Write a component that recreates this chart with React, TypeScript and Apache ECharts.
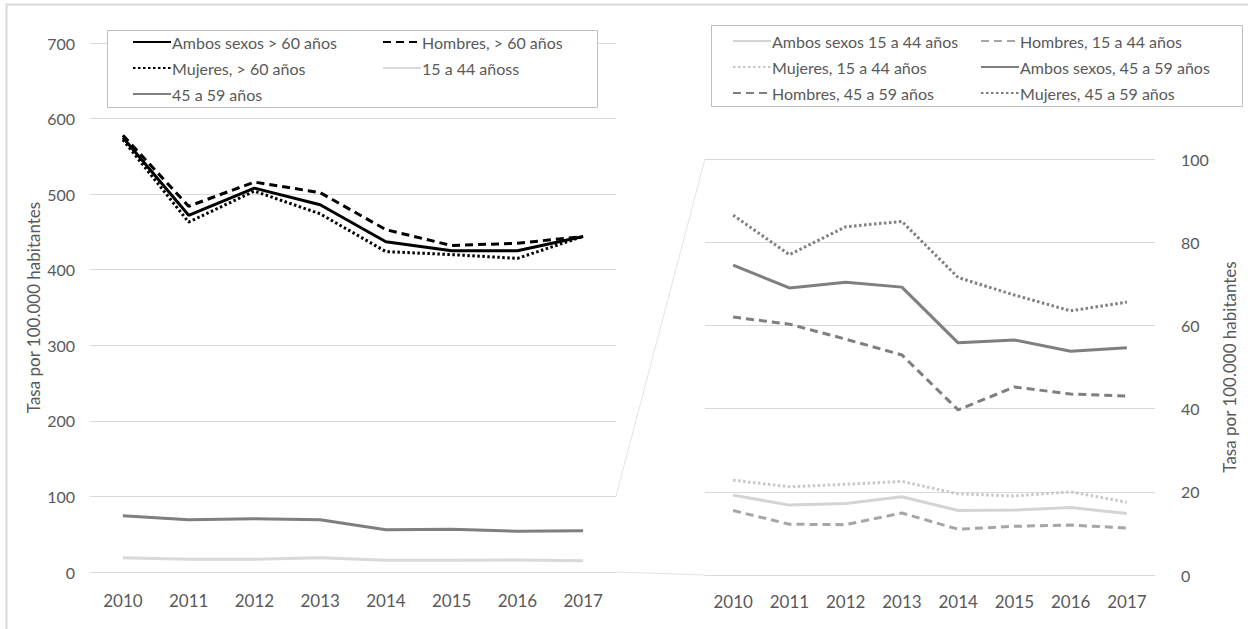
import React, { useEffect, useRef } from "react";
import * as echarts from "echarts";

const years = ["2010", "2011", "2012", "2013", "2014", "2015", "2016", "2017"];

// Left chart (all ages)
const ambos60 = [575, 472, 508, 486, 437, 425, 425, 444];
const hombres60 = [578, 484, 516, 502, 453, 432, 435, 444];
const mujeres60 = [572, 463, 504, 474, 424, 420, 415, 444];
const g15a44 = [19, 17, 17, 19, 15.5, 15.5, 16, 14.8];
const g45a59 = [74.5, 69, 70.4, 69.2, 55.8, 56.5, 53.8, 54.6];

// Right chart (zoom 0-100)
const ambos15 = [19.2, 16.8, 17.2, 18.8, 15.5, 15.6, 16.2, 14.8];
const hombres15 = [15.5, 12.2, 12.1, 14.9, 11.0, 11.7, 12.0, 11.3];
const mujeres15 = [22.8, 21.2, 21.8, 22.5, 19.5, 19.0, 20.0, 17.5];
const ambos45 = [74.5, 69.0, 70.4, 69.2, 55.8, 56.5, 53.8, 54.6];
const hombres45 = [62.0, 60.3, 56.7, 52.9, 39.7, 45.2, 43.5, 43.0];
const mujeres45 = [86.5, 77.0, 83.7, 85.0, 71.5, 67.3, 63.5, 65.6];

const leftTicks = { min: 0, max: 700, interval: 100 };
const rightTicks = { min: 0, max: 100, interval: 20 };
const axisName = "Tasa por 100.000 habitantes";

const FONT = "Lato, 'Open Sans', sans-serif";
const TXT = "#595959";
const GRID = "#d9d9d9";

export default function App() {
  const ref = useRef<HTMLDivElement>(null);
  useEffect(() => {
    if (!ref.current) return;
    const chart = echarts.init(ref.current, null, { renderer: "svg" });
    const dash = [8, 5];
    const dot = [2.5, 2.5];
    const line = (
      name: string,
      data: number[],
      color: string,
      type: any,
      idx: number,
      width = 3
    ) => ({
      name,
      type: "line",
      xAxisIndex: idx,
      yAxisIndex: idx,
      data,
      symbol: "none",
      lineStyle: { color, width, type },
      itemStyle: { color },
      z: 2,
    });
    const legendBase = {
      orient: "vertical",
      selectedMode: false,
      itemWidth: 38,
      itemHeight: 14,
      itemGap: 8,
      itemStyle: { opacity: 0 },
      textStyle: { color: TXT, fontFamily: FONT, fontSize: 16, lineHeight: 18, padding: [0, 0, 0, -4] },
      z: 10,
    };
    const catAxis = (gridIndex: number, margin: number) => ({
      type: "category",
      gridIndex,
      data: years,
      boundaryGap: true,
      axisLine: { show: true, lineStyle: { color: GRID, width: 1 } },
      axisTick: { show: false },
      axisLabel: { color: TXT, fontFamily: FONT, fontSize: 17, margin },
    });
    const nameStyle = { color: TXT, fontFamily: FONT, fontSize: 17 };
    chart.setOption({
      animation: false,
      backgroundColor: "#ffffff",
      textStyle: { fontFamily: FONT },
      grid: [
        { left: 90, top: 43, width: 526, height: 529 },
        { left: 705, top: 159, width: 450, height: 416 },
      ],
      xAxis: [catAxis(0, 20), catAxis(1, 18)],
      yAxis: [
        {
          type: "value",
          gridIndex: 0,
          ...leftTicks,
          name: axisName,
          nameLocation: "middle",
          nameGap: 48,
          nameRotate: 90,
          nameTextStyle: nameStyle,
          axisLine: { show: false },
          axisTick: { show: false },
          axisLabel: { color: TXT, fontFamily: FONT, fontSize: 16, margin: 15 },
          splitLine: { lineStyle: { color: GRID, width: 1 } },
        },
        {
          type: "value",
          gridIndex: 1,
          position: "right",
          ...rightTicks,
          name: axisName,
          nameLocation: "middle",
          nameGap: 66,
          nameRotate: 90,
          nameTextStyle: nameStyle,
          axisLine: { show: false },
          axisTick: { show: false },
          axisLabel: { color: TXT, fontFamily: FONT, fontSize: 16, margin: 26 },
          splitLine: { lineStyle: { color: GRID, width: 1 } },
        },
      ],
      legend: [
        { ...legendBase, left: 127, top: 28, data: ["Ambos sexos > 60 años", "Mujeres, > 60 años", "45 a 59 años"] },
        { ...legendBase, left: 377, top: 28, data: ["Hombres, > 60 años", "15 a 44 añoss"] },
        { ...legendBase, left: 727, top: 27, data: ["Ambos sexos 15 a 44 años", "Mujeres, 15 a 44 años", "Hombres, 45 a 59 años"] },
        { ...legendBase, left: 975, top: 27, data: ["Hombres, 15 a 44 años", "Ambos sexos, 45 a 59 años", "Mujeres, 45 a 59 años"] },
      ],
      series: [
        line("15 a 44 añoss", g15a44, "#d9d9d9", "solid", 0),
        line("45 a 59 años", g45a59, "#7f7f7f", "solid", 0),
        line("Mujeres, > 60 años", mujeres60, "#000000", dot, 0),
        line("Hombres, > 60 años", hombres60, "#000000", dash, 0),
        line("Ambos sexos > 60 años", ambos60, "#000000", "solid", 0),
        line("Ambos sexos 15 a 44 años", ambos15, "#d4d4d4", "solid", 1),
        line("Hombres, 15 a 44 años", hombres15, "#a6a6a6", dash, 1),
        line("Mujeres, 15 a 44 años", mujeres15, "#c8c8c8", dot, 1),
        line("Ambos sexos, 45 a 59 años", ambos45, "#7f7f7f", "solid", 1),
        line("Hombres, 45 a 59 años", hombres45, "#7f7f7f", dash, 1),
        line("Mujeres, 45 a 59 años", mujeres45, "#7f7f7f", dot, 1),
      ],
      graphic: [
        { type: "line", shape: { x1: 5.5, y1: 4.5, x2: 1248, y2: 4.5 }, style: { stroke: GRID, lineWidth: 2 }, z: 1 },
        { type: "line", shape: { x1: 6.5, y1: 4.5, x2: 6.5, y2: 629 }, style: { stroke: GRID, lineWidth: 2 }, z: 1 },
        { type: "rect", shape: { x: 107.5, y: 30.5, width: 490, height: 77 }, style: { fill: "#ffffff", stroke: "#bfbfbf", lineWidth: 1 }, z: 5 },
        { type: "rect", shape: { x: 711.5, y: 25.5, width: 531, height: 81 }, style: { fill: "#ffffff", stroke: "#bfbfbf", lineWidth: 1 }, z: 5 },
        { type: "line", shape: { x1: 616, y1: 496, x2: 705, y2: 159 }, style: { stroke: "#e3e3e3", lineWidth: 1 }, z: 1 },
        { type: "line", shape: { x1: 616, y1: 572, x2: 705, y2: 575 }, style: { stroke: "#e3e3e3", lineWidth: 1 }, z: 1 },
      ],
    });
    return () => chart.dispose();
  }, []);
  return (
    <div
      ref={ref}
      style={{ position: "fixed", left: 0, top: 0, width: 1248, height: 629, background: "#fff" }}
    />
  );
}
